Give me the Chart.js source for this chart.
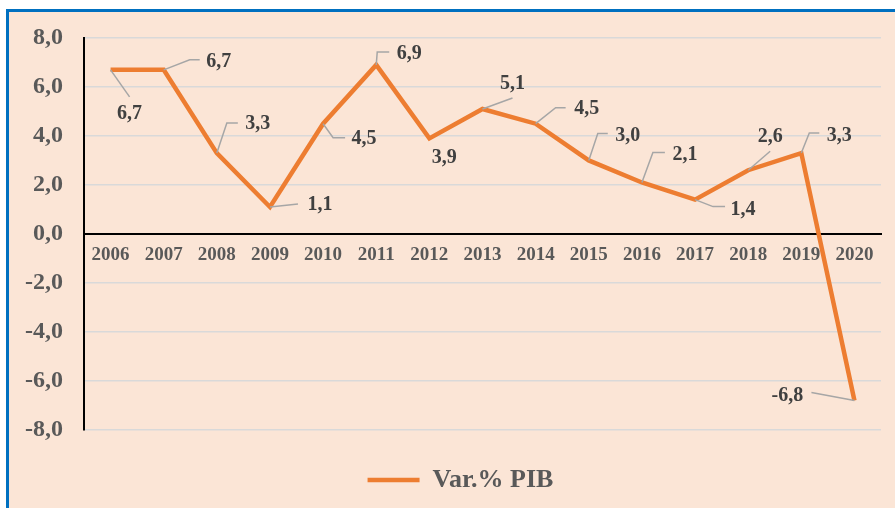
<!DOCTYPE html>
<html>
<head>
<meta charset="utf-8">
<script src="https://cdn.jsdelivr.net/npm/chart.js@4/dist/chart.umd.min.js"></script>
<style>
  html, body { margin: 0; padding: 0; background: #ffffff; }
  #frame {
    position: absolute; left: 6px; top: 9px; right: 0; bottom: 0;
    background: #FBE5D6;
    border-top: 3px solid #0070C0;
    border-left: 3px solid #0070C0;
  }
  #chart { position: absolute; left: 0; top: 0; }
</style>
</head>
<body>
<div id="frame"></div>
<canvas id="chart" width="895" height="508"></canvas>
<script>
const years = ['2006', '2007', '2008', '2009', '2010', '2011', '2012', '2013', '2014', '2015', '2016', '2017', '2018', '2019', '2020'];
const pibVar = [6.7, 6.7, 3.3, 1.1, 4.5, 6.9, 3.9, 5.1, 4.5, 3.0, 2.1, 1.4, 2.6, 3.3, -6.8];
const seriesName = 'Var.% PIB';

// leader line + label placement, relative to each point (px)
const labelPlacement = [
  { line: [[0, 0], [19, 27]], text: [19, 44] },
  { line: [[0, 0], [26, -10], [36, -10]], text: [55, -8] },
  { line: [[0, 0], [10, -30], [21, -30]], text: [41, -29] },
  { line: [[0, 0], [28, -3]], text: [50, -2] },
  { line: [[0, 0], [10, 14], [22, 14]], text: [41, 15] },
  { line: [[0, 0], [1, -13], [13, -13]], text: [33, -11] },
  { line: null, text: [15, 19] },
  { line: [[0, 0], [30, -11]], text: [30, -25] },
  { line: [[0, 0], [20, -16], [30, -16]], text: [51, -15] },
  { line: [[0, 0], [9, -27], [19, -27]], text: [39, -25] },
  { line: [[0, 0], [11, -30], [23, -30]], text: [43, -28] },
  { line: [[0, 0], [18, 7], [30, 7]], text: [48, 10] },
  { line: [[0, 0], [22, -19]], text: [22, -33] },
  { line: [[0, 0], [8, -20], [18, -20]], text: [38, -17] },
  { line: [[0, 0], [-43, -8]], text: [-67, -5] }
];

const fmt = v => v.toFixed(1).replace('.', ',');
const serif = '"Liberation Serif", "Times New Roman", serif';

const calloutLabels = {
  id: 'calloutLabels',
  afterLayout(chart) {
    // legend sits a bit right of the canvas centre
    if (chart.legend) {
      chart.legend.left += 20;
      chart.legend.right += 20;
    }
  },
  afterDatasetsDraw(chart) {
    const ctx = chart.ctx;
    const meta = chart.getDatasetMeta(0);
    ctx.save();
    meta.data.forEach((pt, i) => {
      const p = labelPlacement[i];
      if (p.line) {
        ctx.beginPath();
        ctx.strokeStyle = '#A6A6A6';
        ctx.lineWidth = 1.5;
        p.line.forEach(([dx, dy], k) => {
          if (k === 0) ctx.moveTo(pt.x + dx, pt.y + dy);
          else ctx.lineTo(pt.x + dx, pt.y + dy);
        });
        ctx.stroke();
      }
      ctx.fillStyle = '#404040';
      ctx.font = 'bold 20px ' + serif;
      ctx.textAlign = 'center';
      ctx.textBaseline = 'middle';
      ctx.fillText(fmt(pibVar[i]), pt.x + p.text[0], pt.y + p.text[1]);
    });
    ctx.restore();
  }
};

new Chart(document.getElementById('chart').getContext('2d'), {
  type: 'line',
  data: {
    labels: years,
    datasets: [{
      label: seriesName,
      data: pibVar,
      borderColor: '#ED7D31',
      backgroundColor: '#ED7D31',
      borderWidth: 4.5,
      pointRadius: 0,
      pointStyle: 'line',
      tension: 0,
      fill: false
    }]
  },
  options: {
    responsive: false,
    animation: false,
    layout: { padding: { left: 0, right: 14, top: 38, bottom: 5 } },
    scales: {
      x: {
        position: { y: 0 },
        offset: true,
        grid: { display: false, drawTicks: false },
        border: { display: true, color: '#000000', width: 2 },
        ticks: {
          padding: 10,
          color: '#595959',
          font: { family: serif, size: 19, weight: 'bold' },
          maxRotation: 0
        }
      },
      y: {
        min: -8,
        max: 8,
        afterFit(scale) { scale.width = 84; },
        grid: {
          drawTicks: false,
          color: ctx => ctx.tick && ctx.tick.value === 0 ? '#000000' : '#D9D9D9',
          lineWidth: ctx => ctx.tick && ctx.tick.value === 0 ? 2 : 1.5
        },
        border: { display: true, color: '#000000', width: 2 },
        ticks: {
          stepSize: 2,
          padding: 21,
          color: '#595959',
          font: { family: serif, size: 24, weight: 'bold' },
          callback: v => fmt(v)
        }
      }
    },
    plugins: {
      legend: {
        position: 'bottom',
        title: { display: true, text: ' ', font: { size: 1 }, padding: { top: 26, bottom: 0 } },
        labels: {
          usePointStyle: true,
          pointStyle: 'line',
          pointStyleWidth: 52,
          padding: 10,
          color: '#595959',
          font: { family: serif, size: 26, weight: 'bold' }
        }
      },
      tooltip: { enabled: false }
    }
  },
  plugins: [calloutLabels]
});
</script>
</body>
</html>
